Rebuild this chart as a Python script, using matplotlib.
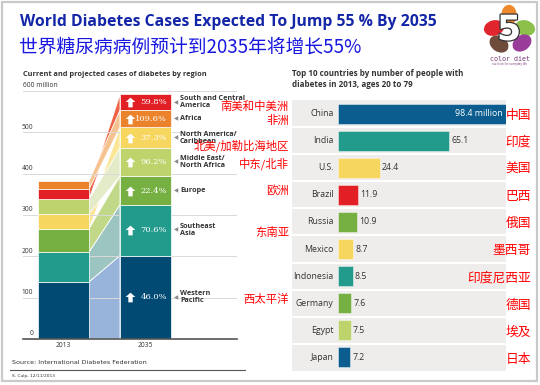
import matplotlib
matplotlib.use("Agg")
import matplotlib.pyplot as plt
import matplotlib.patheffects as pe
from matplotlib.patches import Polygon, Rectangle, Ellipse
from matplotlib.path import Path

W, H = 540, 385

# ---- data: regions (2013 stacking order, bottom to top) ----
regions = ["Western\nPacific", "Southeast\nAsia", "Europe", "North America/\nCaribbean",
           "Middle East/\nNorth Africa", "South and Central\nAmerica", "Africa"]
regions_cn = ["西太平洋", "东南亚", "欧洲", "北美/加勒比海地区", "中东/北非", "南美和中美洲", "非洲"]
cases_2013 = [138.2, 72.1, 56.3, 36.7, 34.6, 24.1, 19.8]
cases_2035 = [201.8, 123.0, 68.9, 50.4, 67.9, 38.5, 41.4]
growth = ["46.0%", "70.6%", "22.4%", "37.3%", "96.2%", "59.8%", "109.6%"]
order_2013 = [0, 1, 2, 3, 4, 5, 6]
order_2035 = [0, 1, 2, 4, 3, 6, 5]
region_colors = ["#004a74", "#229b8c", "#76b043", "#f6d65e", "#bdd46c", "#e31f26", "#ea832c"]
link_colors = ["#98b4da", "#9cc4c0", "#c2d889", "#fbe596", "#e3ebc9", "#ef6447", "#f6c390"]
cn_shift = [-5, -5, 0, -19, -3, -9, -5]   # chinese label offset (million units), as in the source
years = ["2013", "2035"]

# ---- data: top 10 countries ----
countries = ["China", "India", "U.S.", "Brazil", "Russia", "Mexico", "Indonesia",
             "Germany", "Egypt", "Japan"]
countries_cn = ["中国", "印度", "美国", "巴西", "俄国", "墨西哥", "印度尼西亚", "德国", "埃及", "日本"]
country_cases = [98.4, 65.1, 24.4, 11.9, 10.9, 8.7, 8.5, 7.6, 7.5, 7.2]
country_colors = ["#0a5d8e", "#229b8c", "#f6d65e", "#e31f26", "#76b043", "#f6d65e",
                  "#229b8c", "#76b043", "#bdd46c", "#0a5d8e"]

EN = "Open Sans"
CN = ["Noto Sans CJK SC", "DejaVu Sans"]

fig = plt.figure(figsize=(W / 100, H / 100), dpi=100)
fig.patch.set_facecolor("white")


def fx(px):
    return px / W


def fy(py):
    return 1 - py / H


# frame
fig.patches.append(Rectangle((fx(2), fy(381)), fx(535), 379 / H, transform=fig.transFigure,
                             fill=False, edgecolor="#c9c9c9", lw=1.6))

# titles
fig.text(fx(20), fy(22), "World Diabetes Cases Expected To Jump 55 % By 2035", family=EN,
         weight="bold", size=11.3, color="#1426a8", va="center")
fig.text(fx(19), fy(47), "世界糖尿病病例预计到2035年将增长55%", family=CN, size=13.5,
         color="#1818e0", va="center")

# logo
lax = fig.add_axes([fx(485), fy(66), fx(52), 62 / H])
lax.set_xlim(0, 52)
lax.set_ylim(62, 0)
lax.axis("off")
for (cx, cy, ang, col) in [(24, 11, 90, "#ee8a2d"), (40, 24, 15, "#8cc04a"), (37, 39, -35, "#9a3d9a"),
                           (14, 40, 35, "#6e4b3a"), (9, 24, -15, "#e0262c")]:
    lax.add_patch(Ellipse((cx, cy), 19, 14, angle=ang, color=col, clip_on=False))
five = lax.text(24, 26, "5", ha="center", va="center", size=25, weight="bold", color="white",
                family="DejaVu Sans")
five.set_path_effects([pe.withStroke(linewidth=1.8, foreground="#333333")])
lax.text(25, 55, "color diet", ha="center", va="center", size=4.8, color="#7a3a7a",
         family="DejaVu Sans Mono")
lax.text(25, 60, "nutrition for everyday life", ha="center", va="center", size=2, color="#7a3a7a")

# ---- left chart ----
x0px, bw_px, step = 63.5, 51, 82
ax = fig.add_axes([fx(23), fy(339), fx(214), 248 / H])
ax.set_xlim((23 - x0px) / step, (237 - x0px) / step)
ax.set_ylim(0, 600)
ax.axis("off")
bw = bw_px / step


def stack(vals, order):
    b = {}
    acc = 0
    for i in order:
        b[i] = acc
        acc += vals[i]
    return b


b13 = stack(cases_2013, order_2013)
b35 = stack(cases_2035, order_2035)

for i in range(len(regions)):
    xa, xb = 0 + bw / 2, 1 - bw / 2
    poly = [(xa, b13[i]), (xa, b13[i] + cases_2013[i]), (xb, b35[i] + cases_2035[i]), (xb, b35[i])]
    ax.add_patch(Polygon(poly, closed=True, facecolor=link_colors[i], edgecolor="white", lw=0.6, zorder=1))

xl, xr = (23 - x0px) / step, (237 - x0px) / step
for v in [100, 200, 300, 400, 500, 600]:
    ax.plot([xl, xr], [v, v], color="#d9d9d9", lw=0.7, zorder=1.5)
ax.plot([xl, xr], [0, 0], color="#555555", lw=1.2, zorder=3, clip_on=False)
for v in [0, 100, 200, 300, 400, 500]:
    ax.text((33 - x0px) / step, v + 4, str(v), ha="right", va="bottom", size=4.8, family=EN, color="#333333")
ax.text(xl, 604, "600 million", ha="left", va="bottom", size=4.8, family=EN, color="#333333")

for i in range(len(regions)):
    ax.bar(0, cases_2013[i], bw, bottom=b13[i], color=region_colors[i], edgecolor="white", lw=0.5, zorder=2)
    ax.bar(1, cases_2035[i], bw, bottom=b35[i], color=region_colors[i], edgecolor="white", lw=0.5, zorder=2)

arrow = Path([(-1, 0.1), (0, 1), (1, 0.1), (0.45, 0.1), (0.45, -1), (-0.45, -1), (-0.45, 0.1), (-1, 0.1)])
for i in range(len(regions)):
    yc = b35[i] + cases_2035[i] / 2
    ax.plot((130 - x0px) / step, yc, marker=arrow, ms=7, color="white", mew=0, zorder=4)
    ax.text((167 - x0px) / step, yc, growth[i], ha="right", va="center", size=6, color="white",
            family="DejaVu Serif", zorder=4)
    ax.text((176 - x0px) / step, yc, "◀", ha="center", va="center", size=4, color="#888888",
            family="DejaVu Sans", clip_on=False)
    ax.text((180 - x0px) / step, yc, regions[i], ha="left", va="center", size=5.2, weight="bold",
            color="#333333", family=EN, linespacing=0.95, clip_on=False)
    ax.text((289 - x0px) / step, yc + cn_shift[i], regions_cn[i], ha="right", va="center", size=8.2,
            color="red", family=CN, clip_on=False, zorder=5)

for k, yr in enumerate(years):
    ax.text(k, -8, yr, ha="center", va="top", size=4.8, family=EN, color="#333333")

fig.text(fx(23), fy(75), "Current and projected cases of diabetes by region", family=EN, weight="bold",
         size=5.3, color="#333333", va="center")
fig.text(fx(12), fy(362), "Source: International Diabetes Federation", family="Liberation Sans Narrow",
         size=4.6, color="#333333", va="center")
fig.lines.append(plt.Line2D([fx(10), fx(245)], [fy(370), fy(370)], transform=fig.transFigure,
                            color="#555555", lw=0.8))
fig.text(fx(12), fy(376), "S. Culp, 12/11/2013", family="Liberation Sans Narrow", size=3.2,
         color="#333333", va="center")

# ---- right chart ----
unit = 168 / 98.4
rx = fig.add_axes([fx(292), fy(371), fx(214), 271 / H])
rx.set_xlim(-46 / unit, 98.4)
rx.set_ylim(9.5, -0.5)
rx.axis("off")
rx.add_patch(Rectangle((-46 / unit, -0.5), 46 / unit + 98.4, 10, color="#efedeb", zorder=0))
for k in range(1, len(countries)):
    rx.axhline(k - 0.5, color="white", lw=1.5, zorder=1)
rx.barh(range(len(countries)), country_cases, height=0.74, color=country_colors,
        edgecolor="#ffffff80", lw=0.6, zorder=2)
for k, (c, v) in enumerate(zip(countries, country_cases)):
    rx.text(-2.6, k, c, ha="right", va="center", size=6.3, family=EN, color="#333333")
    if k == 0:
        rx.text(v - 2.2, k, f"{v} million", ha="right", va="center", size=6.3, family=EN,
                color="white", zorder=3)
    else:
        rx.text(v + 1.3, k, f"{v}", ha="left", va="center", size=6.3, family=EN,
                color="#333333", zorder=3)
    rx.text((531 - 338) / unit, k + 0.06, countries_cn[k], ha="right", va="center", size=9.2,
            family=CN, color="red", clip_on=False)

fig.text(fx(292), fy(79), "Top 10 countries by number of people with\ndiabetes in 2013, ages 20 to 79",
         family=EN, weight="bold", size=5.8, color="#333333", va="center", linespacing=1.3)

fig.savefig("out.png", dpi=100, facecolor="white")
